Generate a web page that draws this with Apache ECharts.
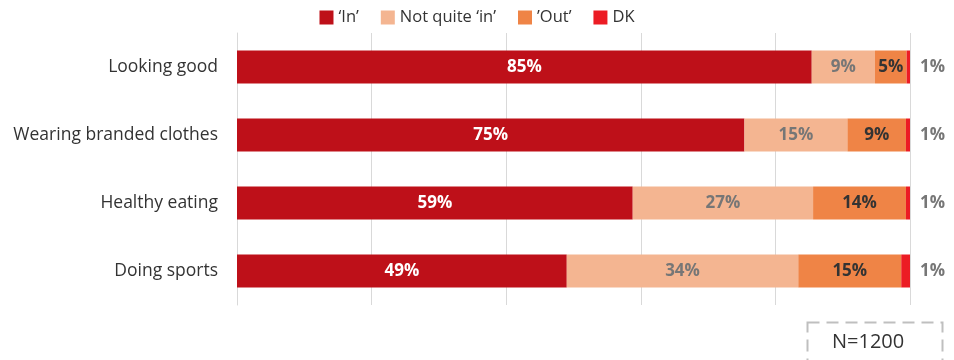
<!DOCTYPE html>
<html>
<head>
<meta charset="utf-8">
<script src="https://cdn.jsdelivr.net/npm/echarts@6/dist/echarts.min.js"></script>
<style>
  html, body { margin: 0; padding: 0; background: #fff; }
  #chart { width: 954px; height: 360px; }
</style>
</head>
<body>
<div id="chart"></div>
<script>
// categories, top to bottom
var categories = ['Looking good', 'Wearing branded clothes', 'Healthy eating', 'Doing sports'];

// share of answers (%)
var inVals = [85.4, 75.4, 58.8, 49.0];
var notQuiteVals = [9.4, 15.3, 26.8, 34.4];
var outVals = [4.7, 8.7, 13.8, 15.3];
var dkVals = [0.5, 0.6, 0.6, 1.3];

var seriesNames = ['\u2018In\u2019', 'Not quite \u2018in\u2019', '\u2019Out\u2019', 'DK'];
var colors = ['#be1019', '#f4b591', '#ef8446', '#ec1c24'];

var fontFam = "'Open Sans', 'Noto Sans', sans-serif";

function pct(p) { return Math.round(p.value) + '%'; }

var chart = echarts.init(document.getElementById('chart'));

var option = {
  animation: false,
  color: colors,
  textStyle: { fontFamily: fontFam },
  legend: {
    top: 4,
    left: 'center',
    itemWidth: 14,
    itemHeight: 14,
    itemGap: 22,
    icon: 'rect',
    textStyle: { fontSize: 16.5, color: '#333', fontFamily: fontFam },
    data: seriesNames
  },
  grid: {
    left: 237,
    right: 44,
    top: 33,
    bottom: 55
  },
  xAxis: {
    type: 'value',
    min: 0,
    max: 100,
    interval: 20,
    axisLabel: { show: false },
    axisLine: { show: false },
    axisTick: { show: false },
    splitLine: { show: true, lineStyle: { color: '#d9d9d9', width: 1 } }
  },
  yAxis: {
    type: 'category',
    inverse: true,
    data: categories,
    axisTick: { show: false },
    axisLine: { show: true, lineStyle: { color: '#d9d9d9' } },
    axisLabel: { fontSize: 17.5, color: '#333', margin: 19, fontFamily: fontFam }
  },
  series: [
    {
      name: seriesNames[0], type: 'bar', stack: 'all', barWidth: 33,
      data: inVals,
      label: { show: true, position: 'inside', formatter: pct, color: '#fff', fontWeight: 'bold', fontSize: 17, fontFamily: fontFam }
    },
    {
      name: seriesNames[1], type: 'bar', stack: 'all', barWidth: 33,
      data: notQuiteVals,
      label: { show: true, position: 'inside', formatter: pct, color: '#767676', fontWeight: 'bold', fontSize: 17, fontFamily: fontFam }
    },
    {
      name: seriesNames[2], type: 'bar', stack: 'all', barWidth: 33,
      data: outVals,
      label: { show: true, position: 'inside', formatter: pct, color: '#333', fontWeight: 'bold', fontSize: 17, fontFamily: fontFam }
    },
    {
      name: seriesNames[3], type: 'bar', stack: 'all', barWidth: 33,
      data: dkVals,
      label: { show: true, position: 'right', distance: 10, formatter: pct, color: '#767676', fontWeight: 'bold', fontSize: 17, fontFamily: fontFam }
    }
  ],
  graphic: [
    {
      type: 'rect',
      left: 805, top: 320,
      shape: { width: 135, height: 60 },
      style: { fill: 'none', stroke: '#bfbfbf', lineWidth: 2, lineDash: [12, 7] }
    },
    {
      type: 'text',
      left: 832, top: 332,
      style: { text: 'N=1200', fontSize: 20, fill: '#333', fontFamily: fontFam }
    }
  ]
};

chart.setOption(option);
</script>
</body>
</html>
